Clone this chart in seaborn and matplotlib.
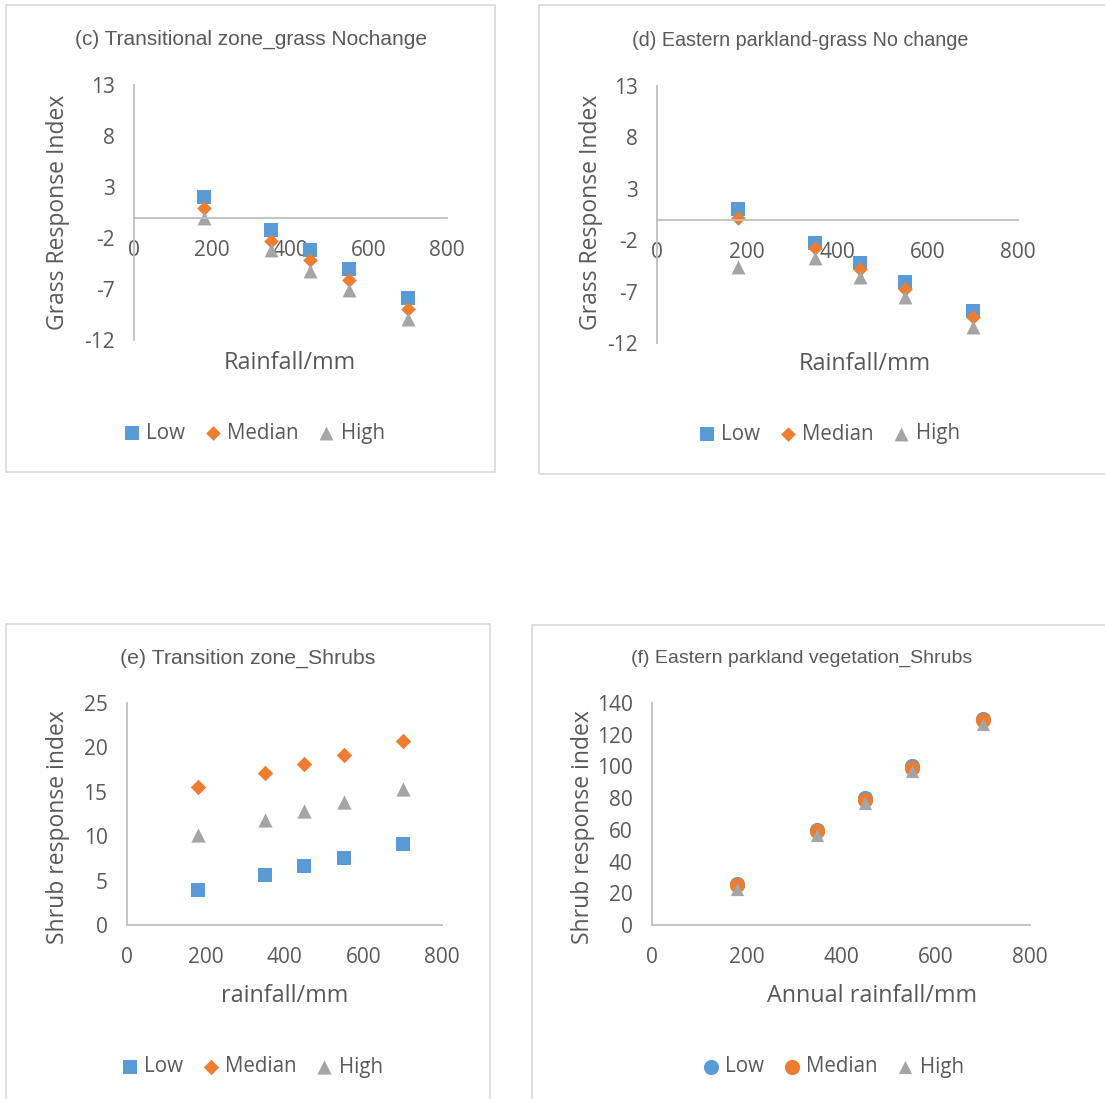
import pandas as pd
import seaborn as sns
import matplotlib.pyplot as plt
from matplotlib.patches import Rectangle

# rainfall levels shared by all panels
rainfall = [180, 350, 450, 550, 700]
series = ['Low', 'Median', 'High']

# (c) Transitional zone grass
c_low = [2.0, -1.2, -3.2, -5.0, -7.9]
c_median = [0.9, -2.3, -4.2, -6.1, -9.0]
c_high = [0.0, -3.2, -5.2, -7.1, -9.9]

# (d) Eastern parkland grass
d_low = [1.0, -2.3, -4.2, -6.1, -8.9]
d_median = [0.2, -2.8, -4.8, -6.7, -9.5]
d_high = [-4.6, -3.7, -5.6, -7.5, -10.4]

# (e) Transition zone shrubs
e_low = [3.9, 5.6, 6.6, 7.6, 9.1]
e_median = [15.5, 17.1, 18.1, 19.1, 20.7]
e_high = [10.1, 11.8, 12.8, 13.8, 15.3]

# (f) Eastern parkland shrubs
f_low = [26, 60, 80, 100, 130]
f_median = [25, 59, 79, 99, 129]
f_high = [23, 57, 77, 97, 127]

grass_ticks = [-12, -7, -2, 3, 8, 13]
e_ticks = [0, 5, 10, 15, 20, 25]
f_ticks = [0, 20, 40, 60, 80, 100, 120, 140]
x_ticks = [0, 200, 400, 600, 800]

colors = {'Low': '#5B9BD5', 'Median': '#ED7D31', 'High': '#A5A5A5'}
txt = '#595959'
axc = '#BFBFBF'

W, H = 1105, 1099
sns.set_theme(style='white')
plt.rcParams['font.family'] = ['Open Sans', 'DejaVu Sans']
plt.rcParams['axes.unicode_minus'] = False

fig = plt.figure(figsize=(W / 100, H / 100), dpi=100)


def fx(x):
    return x / W


def fy(y):
    return 1 - y / H


panels = [
    dict(vals=[c_low, c_median, c_high], box=(6, 5, 495, 472), ax=(134, 85, 447, 340),
         ylim=(-12, 13), yt=grass_ticks, zero=True,
         markers=['s', 'D', '^'], sizes=[115, 55, 100],
         title='(c) Transitional zone_grass Nochange', tpos=(251, 39), tsize=15,
         xl='Rainfall/mm', xlpos=(290, 363), yl='Grass Response Index', ylpos=(58, 212),
         leg=(254, 433)),
    dict(vals=[d_low, d_median, d_high], box=(539, 5, 1110, 474), ax=(657, 86, 1018, 343),
         ylim=(-12, 13), yt=grass_ticks, zero=True,
         markers=['s', 'D', '^'], sizes=[115, 55, 100],
         title='(d) Eastern parkland-grass No change', tpos=(800, 41), tsize=14.2,
         xl='Rainfall/mm', xlpos=(865, 364), yl='Grass Response Index', ylpos=(591, 212),
         leg=(829, 434)),
    dict(vals=[e_low, e_median, e_high], box=(6, 624, 490, 1110), ax=(127, 703, 442, 925),
         ylim=(0, 25), yt=e_ticks, zero=False,
         markers=['s', 'D', '^'], sizes=[115, 62, 105],
         title='(e) Transition zone_Shrubs', tpos=(248, 658), tsize=15.3,
         xl='rainfall/mm', xlpos=(285, 996), yl='Shrub response index', ylpos=(58, 827),
         leg=(252, 1067)),
    dict(vals=[f_low, f_median, f_high], box=(532, 625, 1110, 1110), ax=(652, 703, 1030, 925),
         ylim=(0, 140), yt=f_ticks, zero=False,
         markers=['o', 'o', '^'], sizes=[120, 120, 90],
         title='(f) Eastern parkland vegetation_Shrubs', tpos=(802, 658), tsize=14,
         xl='Annual rainfall/mm', xlpos=(872, 996), yl='Shrub response index', ylpos=(583, 827),
         leg=(833, 1067)),
]

for p in panels:
    bx0, by0, bx1, by1 = p['box']
    fig.patches.append(Rectangle((fx(bx0), fy(by1)), (bx1 - bx0) / W, (by1 - by0) / H,
                                 transform=fig.transFigure, fill=False,
                                 edgecolor='#D9D9D9', lw=1.2))
    x0, y0, x1, y1 = p['ax']
    ax = fig.add_axes([fx(x0), fy(y1), (x1 - x0) / W, (y1 - y0) / H])
    ax.set_facecolor('none')

    for name, vals, m, s in zip(series, p['vals'], p['markers'], p['sizes']):
        df = pd.DataFrame({'rainfall': rainfall, 'value': vals})
        sns.scatterplot(data=df, x='rainfall', y='value', marker=m, s=s,
                        color=colors[name], linewidth=0, label=name, ax=ax)

    ax.set_xlim(0, 800)
    ax.set_ylim(*p['ylim'])
    ax.set_xticks(x_ticks)
    ax.set_yticks(p['yt'])
    ax.set_xlabel('')
    ax.set_ylabel('')
    for sp in ['top', 'right']:
        ax.spines[sp].set_visible(False)
    for sp in ['left', 'bottom']:
        ax.spines[sp].set_color(axc)
        ax.spines[sp].set_linewidth(1.3)
    if p['zero']:
        ax.spines['bottom'].set_position(('data', 0))
    ax.tick_params(axis='both', length=0, labelsize=15, labelcolor=txt)
    ax.tick_params(axis='y', pad=14)
    ax.tick_params(axis='x', pad=16)

    ax.legend(loc='center', bbox_to_anchor=(fx(p['leg'][0]), fy(p['leg'][1])),
              bbox_transform=fig.transFigure, ncol=3, frameon=False,
              handlelength=0.8, handletextpad=0.3, columnspacing=0.95,
              fontsize=14.8, labelcolor=txt, borderpad=0)

    fig.text(fx(p['tpos'][0]), fy(p['tpos'][1]), p['title'], ha='center', va='center',
             fontsize=p['tsize'], color=txt, family=['Liberation Sans', 'DejaVu Sans'])
    fig.text(fx(p['xlpos'][0]), fy(p['xlpos'][1]), p['xl'], ha='center', va='center',
             fontsize=16.8, color=txt)
    fig.text(fx(p['ylpos'][0]), fy(p['ylpos'][1]), p['yl'], ha='center', va='center',
             rotation=90, fontsize=16.5, color=txt)

fig.savefig('out.png', dpi=100, facecolor='white')
